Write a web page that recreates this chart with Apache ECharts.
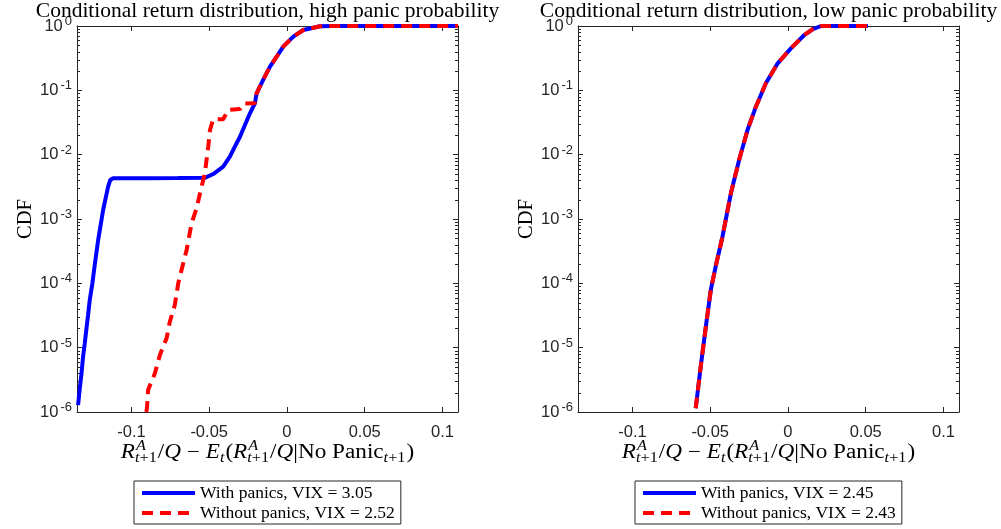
<!DOCTYPE html>
<html>
<head>
<meta charset="utf-8">
<script src="https://cdn.jsdelivr.net/npm/echarts@6/dist/echarts.min.js"></script>
<style>
  html, body { margin: 0; padding: 0; background: #fff; }
  #chart { width: 1001px; height: 529px; }
</style>
</head>
<body>
<div id="chart"></div>
<script>
// ---- data -------------------------------------------------------------
// Left panel: high panic probability
const highWithX = [-0.1343, -0.1332, -0.1321, -0.1311, -0.1300, -0.1289, -0.1279, -0.1268,
  -0.1251, -0.1236, -0.1214, -0.1182, -0.1150, -0.1136, -0.1118, -0.0900, -0.0700, -0.0528,
  -0.0474, -0.0410, -0.0367, -0.0335, -0.0302, -0.0270, -0.0238, -0.0206, -0.0195, -0.0153,
  -0.0109, -0.0066, -0.0024, 0.0041, 0.0105, 0.0212, 0.0296, 0.110];
const highWithY = [1.28e-6, 2.33e-6, 3.99e-6, 7.2e-6, 1.17e-5, 2.0e-5, 3.2e-5, 5.5e-5,
  1.0e-4, 1.93e-4, 4.7e-4, 1.38e-3, 3.18e-3, 4.04e-3, 4.29e-3, 4.31e-3, 4.33e-3, 4.36e-3,
  5.0e-3, 6.5e-3, 9.3e-3, 1.33e-2, 1.90e-2, 2.89e-2, 4.40e-2, 6.29e-2, 0.090, 0.145,
  0.233, 0.333, 0.477, 0.682, 0.867, 0.99, 0.999, 1];

const highWithoutX = [-0.0905, -0.0900, -0.0893, -0.0849, -0.0817, -0.0774, -0.0753, -0.0721,
  -0.0699, -0.0667, -0.0645, -0.0613, -0.0581, -0.0549, -0.0528, -0.0506, -0.0495, -0.0474,
  -0.0410, -0.0378, -0.0302, -0.0277, -0.0206, -0.0195, -0.0153, -0.0109, -0.0066, -0.0024,
  0.0041, 0.0105, 0.0212, 0.0296, 0.110];
const highWithoutY = [1.0e-6, 1.14e-6, 2.2e-6, 4.0e-6, 7.7e-6, 1.40e-5, 2.53e-5, 4.6e-5,
  1.0e-4, 2.05e-4, 3.3e-4, 8.6e-4, 1.47e-3, 3.18e-3, 5.1e-3, 1.33e-2, 2.42e-2, 3.55e-2,
  3.55e-2, 4.94e-2, 5.13e-2, 6.24e-2, 6.29e-2, 0.090, 0.145, 0.233, 0.333, 0.477,
  0.682, 0.867, 0.99, 0.999, 1];

// Right panel: low panic probability (the two distributions coincide)
const lowWithX = [-0.0593, -0.0561, -0.0528, -0.0496, -0.0464, -0.0421, -0.0367, -0.0314,
  -0.0260, -0.0206, -0.0142, -0.0066, 0.0019, 0.0105, 0.0161, 0.0213, 0.0514];
const lowWithY = [1.14e-6, 5.06e-6, 2.12e-5, 7.9e-5, 1.86e-4, 5.3e-4, 2.51e-3, 8.26e-3,
  2.42e-2, 5.57e-2, 0.129, 0.263, 0.450, 0.724, 0.898, 1, 1];
const lowWithoutX = [-0.0593, -0.0561, -0.0528, -0.0496, -0.0464, -0.0421, -0.0367, -0.0314,
  -0.0260, -0.0206, -0.0142, -0.0066, 0.0019, 0.0105, 0.0161, 0.0213, 0.0514];
const lowWithoutY = [1.14e-6, 5.06e-6, 2.12e-5, 7.9e-5, 1.86e-4, 5.3e-4, 2.51e-3, 8.26e-3,
  2.42e-2, 5.57e-2, 0.129, 0.263, 0.450, 0.724, 0.898, 1, 1];

// ---- ticks & labels ----------------------------------------------------
const xTicks = [-0.1, -0.05, 0, 0.05, 0.1];
const xTickLabels = ['-0.1', '-0.05', '0', '0.05', '0.1'];
const yTicks = [1e-6, 1e-5, 1e-4, 1e-3, 1e-2, 1e-1, 1];
const yTickExps = ['-6', '-5', '-4', '-3', '-2', '-1', '0'];
const panelTitles = ['Conditional return distribution, high panic probability',
  'Conditional return distribution, low panic probability'];
const legendHigh = ['With panics, VIX = 3.05', 'Without panics, VIX = 2.52'];
const legendLow = ['With panics, VIX = 2.45', 'Without panics, VIX = 2.43'];
const yName = 'CDF';

// minor log ticks 2..9 within each decade
const yMinorTicks = [];
for (let e = -6; e < 0; e++) for (let m = 2; m <= 9; m++) yMinorTicks.push(m * Math.pow(10, e));

// ---- style ----------------------------------------------------------------
const AX = '#262626';
const SERIF = '"Liberation Serif", "Times New Roman", serif';
const SANS = '"Liberation Sans", Arial, sans-serif';
const BLUE = '#0000ff', RED = '#ff0000';
const DASH = [11, 7];
const LW = 4;
const GRIDS = [{ left: 77, top: 26, width: 381, height: 386 },
               { left: 578, top: 26, width: 381, height: 386 }];

const zip = (xs, ys) => xs.map((x, i) => [x, ys[i]]);

function xAxisCfg(gi, pos) {
  return {
    type: 'value', gridIndex: gi, position: pos, min: -0.135, max: 0.11,
    axisLine: { show: true, onZero: false, lineStyle: { color: AX, width: 1 } },
    axisTick: { show: true, inside: true, length: 5, customValues: xTicks, lineStyle: { color: AX } },
    axisLabel: {
      show: pos === 'bottom', customValues: xTicks, margin: 12,
      fontFamily: SANS, fontSize: 16.5, color: AX,
      formatter: v => { const i = xTicks.findIndex(t => Math.abs(t - v) < 1e-9); return i >= 0 ? xTickLabels[i] : ''; }
    },
    splitLine: { show: false }
  };
}

function yAxisCfg(gi, pos) {
  const cfg = {
    type: 'log', logBase: 10, gridIndex: gi, position: pos, min: 1e-6, max: 1,
    axisLine: { show: true, onZero: false, lineStyle: { color: AX, width: 1 } },
    axisTick: { show: true, inside: true, length: 5, customValues: yTicks, lineStyle: { color: AX } },
    axisLabel: {
      show: pos === 'left', customValues: yTicks, margin: 5,
      formatter: v => {
        const i = yTicks.findIndex(t => Math.abs(Math.log10(t) - Math.log10(v)) < 1e-6);
        return i >= 0 ? '{b|10}{e|' + yTickExps[i] + '}' : '';
      },
      rich: {
        b: { fontFamily: SANS, fontSize: 16.5, color: AX },
        e: { fontFamily: SANS, fontSize: 13, color: AX, padding: [0, 0, 9, 2] }
      }
    },
    splitLine: { show: false }
  };
  if (pos === 'left') {
    cfg.name = yName;
    cfg.nameLocation = 'middle';
    cfg.nameRotate = 90;
    cfg.nameGap = 39;
    cfg.nameTextStyle = { fontFamily: SERIF, fontSize: 20.5, color: '#000' };
  }
  return cfg;
}

function minorTickSeries(gi) {
  return {
    type: 'custom', xAxisIndex: 2 * gi, yAxisIndex: 2 * gi, silent: true, clip: false,
    data: yMinorTicks.map(v => [0, v]),
    renderItem(params, api) {
      const cs = params.coordSys;
      const y = Math.round(api.coord([0, api.value(1)])[1]) + 0.5;
      return {
        type: 'group', children: [
          { type: 'line', shape: { x1: cs.x, y1: y, x2: cs.x + 3, y2: y }, style: { stroke: AX, lineWidth: 1 } },
          { type: 'line', shape: { x1: cs.x + cs.width - 3, y1: y, x2: cs.x + cs.width, y2: y }, style: { stroke: AX, lineWidth: 1 } }
        ]
      };
    }
  };
}

function lineSeries(gi, name, xs, ys, color, dashed, z) {
  return {
    type: 'line', name, xAxisIndex: 2 * gi, yAxisIndex: 2 * gi,
    data: zip(xs, ys), symbol: 'none', showSymbol: false, z,
    lineStyle: { color, width: LW, type: dashed ? DASH : 'solid', cap: 'butt' },
    itemStyle: { color }
  };
}

// ---- math axis title built from positioned text pieces -----------------
const measureCtx = document.createElement('canvas').getContext('2d');
const STRETCH = 1.16;   // horizontal stretch for the math title glyphs
function textWidth(t, size, italic) {
  measureCtx.font = (italic ? 'italic ' : '') + size + 'px ' + SERIF;
  return measureCtx.measureText(t).width * STRETCH;
}
const MAIN = 20, SCR = 14;
const tPlus1 = [{ t: 't', it: 1 }, { t: '+1' }];
const xNameTokens = [
  { t: 'R', it: 1 }, { sup: [{ t: 'A', it: 1 }], sub: tPlus1 },
  { t: '/' }, { t: 'Q', it: 1 }, { t: ' \u2212 ' }, { t: 'E', it: 1 }, { sub: [{ t: 't', it: 1 }] },
  { t: '(' }, { t: 'R', it: 1 }, { sup: [{ t: 'A', it: 1 }], sub: tPlus1 },
  { t: '/' }, { t: 'Q', it: 1 }, { t: '|No Panic' }, { sub: tPlus1 }, { t: ')' }
];

function mathLabel(cx, baseline) {
  const pieces = [];
  let x = 0;
  const place = (segs, size, base, x0) => {
    let xx = x0;
    segs.forEach(s => {
      pieces.push({ t: s.t, it: !!s.it, size, x: xx, base });
      xx += textWidth(s.t, size, s.it);
    });
    return xx - x0;
  };
  xNameTokens.forEach(tok => {
    if (tok.t !== undefined) {
      x += place([tok], MAIN, baseline, x);
    } else {
      let wSup = 0, wSub = 0;
      if (tok.sup) wSup = place(tok.sup, SCR, baseline - 8, x + 1);
      if (tok.sub) wSub = place(tok.sub, SCR, baseline + 3.5, x);
      x += Math.max(wSup + 1, wSub) + 1;
    }
  });
  const x0 = cx - x / 2;
  return pieces.map(p => ({
    type: 'text', silent: true,
    x: x0 + p.x, y: p.base - 0.32 * p.size, scaleX: STRETCH,
    style: {
      text: p.t, fill: '#000', fontFamily: SERIF, fontSize: p.size,
      fontStyle: p.it ? 'italic' : 'normal', align: 'left', verticalAlign: 'middle'
    }
  }));
}

const legendCommon = {
  orient: 'vertical', itemWidth: 53, itemHeight: 14, itemGap: 2,
  padding: [3, 6, 2, 6], borderColor: AX, borderWidth: 1, borderRadius: 0,
  backgroundColor: '#fff', selectedMode: false,
  itemStyle: { opacity: 0 },
  lineStyle: { width: 4 },
  textStyle: { fontFamily: SERIF, fontSize: 17.5, lineHeight: 18, color: '#000' }
};

const option = {
  animation: false,
  backgroundColor: '#fff',
  title: panelTitles.map((t, i) => ({
    text: t, left: GRIDS[i].left + GRIDS[i].width / 2, top: 0, textAlign: 'center', padding: 0,
    textStyle: { fontFamily: SERIF, fontSize: 21.5, fontWeight: 'normal', color: '#000' }
  })),
  grid: GRIDS.map(g => ({ ...g, containLabel: false })),
  xAxis: [xAxisCfg(0, 'bottom'), xAxisCfg(0, 'top'), xAxisCfg(1, 'bottom'), xAxisCfg(1, 'top')],
  yAxis: [yAxisCfg(0, 'left'), yAxisCfg(0, 'right'), yAxisCfg(1, 'left'), yAxisCfg(1, 'right')],
  legend: [
    { ...legendCommon, data: legendHigh, left: 134, top: 481 },
    { ...legendCommon, data: legendLow, left: 635, top: 481 }
  ],
  graphic: [
    ...mathLabel(GRIDS[0].left + GRIDS[0].width / 2, 459),
    ...mathLabel(GRIDS[1].left + GRIDS[1].width / 2, 459)
  ],
  series: [
    minorTickSeries(0),
    minorTickSeries(1),
    lineSeries(0, legendHigh[0], highWithX, highWithY, BLUE, false, 2),
    lineSeries(0, legendHigh[1], highWithoutX, highWithoutY, RED, true, 3),
    lineSeries(1, legendLow[0], lowWithX, lowWithY, BLUE, false, 2),
    lineSeries(1, legendLow[1], lowWithoutX, lowWithoutY, RED, true, 3)
  ]
};

const chart = echarts.init(document.getElementById('chart'), null, { renderer: 'canvas' });
chart.setOption(option);
</script>
</body>
</html>
